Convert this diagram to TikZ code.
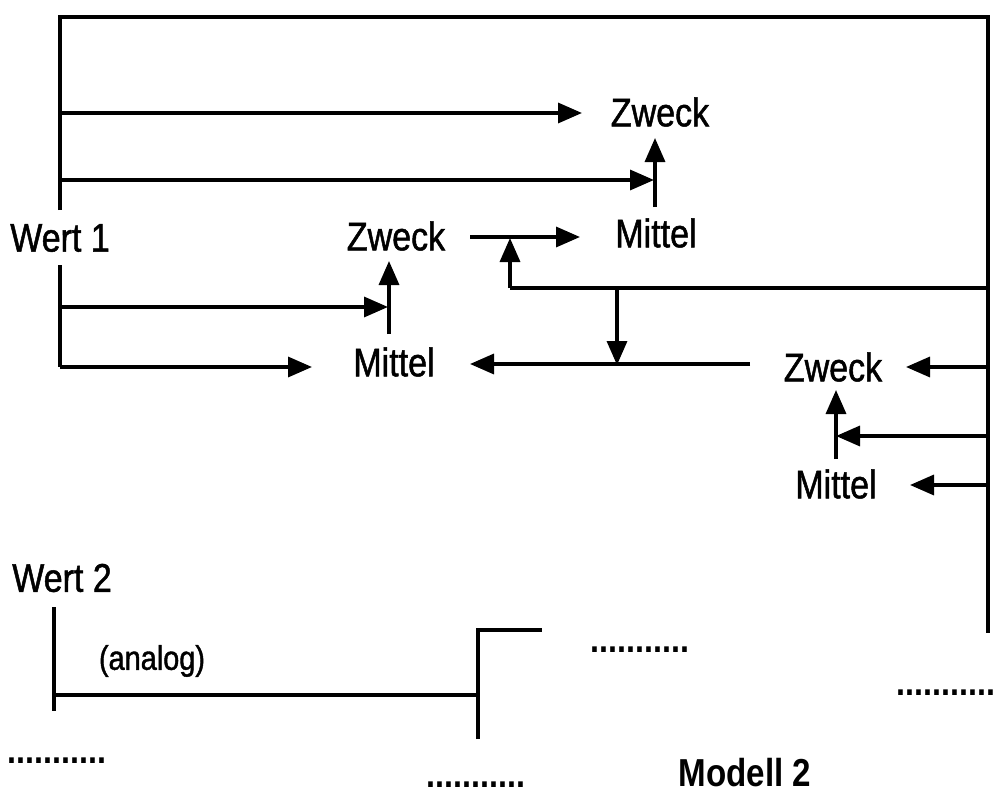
\documentclass[tikz,border=0pt]{standalone}
\usepackage{fontspec}
\setmainfont[FakeStretch=0.85,FakeBold=1.2]{Liberation Sans}
\newfontfamily\modellfont[FakeStretch=0.85]{Liberation Sans}
\usetikzlibrary{arrows.meta}
\tikzset{
  lbl/.style={inner sep=0pt, font=\fontsize{40}{44}\selectfont},
  small/.style={inner sep=0pt, font=\fontsize{34}{38}\selectfont},
  dotrow/.style={inner sep=0pt, font=\modellfont\fontsize{38}{42}\bfseries\selectfont},
  ln/.style={line width=3.4pt, line cap=butt},
  arr/.style={ln, -{Triangle[length=24pt,width=20pt]}},
}
\begin{document}
\begin{tikzpicture}[x=1pt,y=-1pt]
\useasboundingbox (0,0) rectangle (998,797);
% nodes
\node[lbl] (wert1) at (60,238) {Wert 1};
\node[lbl] (zweckA) at (660,112) {Zweck};
\node[lbl] (mittelA) at (656,233) {Mittel};
\node[lbl] (zweckB) at (396,236) {Zweck};
\node[lbl] (mittelB) at (394,362) {Mittel};
\node[lbl] (zweckC) at (833,367) {Zweck};
\node[lbl] (mittelC) at (836,484) {Mittel};
\node[lbl] (wert2) at (62,578) {Wert 2};
\node[small] (analog) at (152,661) {(analog)};
\node[inner sep=0pt, font=\modellfont\fontsize{39}{43}\bfseries\selectfont] (modell) at (745,773) {Modell 2};
\node[dotrow] (d1) at (640,650) {...........};
\node[dotrow] (d2) at (946,693) {...........};
\node[dotrow] (d3) at (57,761) {...........};
\node[dotrow] (d4) at (476,785) {...........};
% coordinates
\coordinate (w1t) at (60,210);
\coordinate (tl) at (60,17);
\coordinate (tr) at (988,17);
\coordinate (rb) at (988,633);
\coordinate (w1b) at (60,265);
\coordinate (w1bb) at (60,367);
% frame
\draw[ln] (w1t) -- (tl) -- (tr) -- (rb);
% upper arrows from Wert 1
\draw[arr] (60,113) -- (582,113);
\draw[arr] (60,180) -- (654,180);
\draw[arr] (655,207) -- (655,138);
% lower arrows from Wert 1
\draw[ln] (w1b) -- (w1bb);
\draw[arr] (w1bb) -- (312,367);
\draw[arr] (60,307) -- (388,307);
\draw[arr] (389,334) -- (389,261);
% middle
\draw[arr] (470,237) -- (580,237);
\draw[ln] (988,288) -- (510,288);
\draw[arr] (510,288) -- (510,238);
\draw[arr] (617,288) -- (617,365);
\draw[arr] (750,364) -- (470,364);
% right
\draw[arr] (988,367) -- (906,367);
\draw[arr] (988,436) -- (836,436);
\draw[arr] (836,459) -- (836,390);
\draw[arr] (988,485) -- (910,485);
% bottom
\draw[ln] (54,607) -- (54,711);
\draw[ln] (54,695) -- (478,695);
\draw[ln] (478,739) -- (478,630) -- (542,630);
\end{tikzpicture}
\end{document}
